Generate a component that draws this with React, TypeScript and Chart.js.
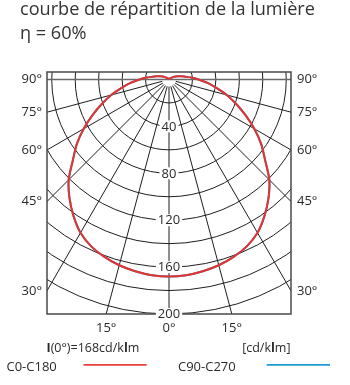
import React, { useEffect, useRef } from "react";
import { Chart, registerables } from "chart.js";

Chart.register(...registerables);

// ---- data ----
const gammaDeg = [0, 5, 10, 15, 20, 25, 30, 35, 40, 45, 50, 55, 60, 65, 70, 75, 80, 85, 90, 95, 100, 105, 110, 115, 120, 130, 140, 150, 165, 180];
const intensityC0C180 = [168, 167.5, 166, 164, 161, 157, 151, 142, 132, 121, 107, 96, 84, 72, 61, 51, 41, 33, 25, 19, 14, 11, 8, 6, 4, 2, 1, 0.5, 0.2, 0];
const intensityC90C270 = [168, 167.5, 166, 164, 161, 157, 151, 142, 132, 121, 107, 96, 84, 72, 61, 51, 41, 33, 25, 19, 14, 11, 8, 6, 4, 2, 1, 0.5, 0.2, 0];
const seriesNames = ["C0-C180", "C90-C270"];
const circleValues = [20, 40, 60, 80, 100, 120, 140, 160, 180, 200];
const circleLabels = [40, 80, 120, 160, 200];
const radialAngles = [0, 15, 30, 45, 60, 75];
const sideAngles = [90, 75, 60, 45, 30];
const bottomAngles = [-15, 0, 15];
const maxIntensity = 200;
const titleLine1 = "courbe de répartition de la lumière";
const titleLine2 = "η = 60%";
const i0Text = ["I", "(0°)=168cd/k", "l", "m"];
const unitText = ["[cd/k", "l", "m]"];

const FONT = "'Open Sans', 'Noto Sans', sans-serif";

function toPoints(vals: number[]) {
  const pts: { x: number; y: number }[] = [];
  for (let i = gammaDeg.length - 1; i >= 0; i--) {
    const g = (gammaDeg[i] * Math.PI) / 180;
    pts.push({ x: -vals[i] * Math.sin(g), y: -vals[i] * Math.cos(g) });
  }
  for (let i = 1; i < gammaDeg.length; i++) {
    const g = (gammaDeg[i] * Math.PI) / 180;
    pts.push({ x: vals[i] * Math.sin(g), y: -vals[i] * Math.cos(g) });
  }
  return pts;
}

function drawRich(ctx: CanvasRenderingContext2D, parts: string[], boldIdx: number[], x: number, y: number, size: number, align: "left" | "right") {
  const fonts = parts.map((_, i) => (boldIdx.includes(i) ? `bold ${size}px ${FONT}` : `${size}px ${FONT}`));
  let total = 0;
  const widths = parts.map((p, i) => {
    ctx.font = fonts[i];
    const w = ctx.measureText(p).width;
    total += w;
    return w;
  });
  let cx = align === "left" ? x : x - total;
  ctx.textAlign = "left";
  parts.forEach((p, i) => {
    ctx.font = fonts[i];
    ctx.fillText(p, cx, y);
    cx += widths[i];
  });
}

const polarPlugin = {
  id: "polarGrid",
  beforeDatasetsDraw(chart: any) {
    const { ctx, chartArea: a, scales } = chart;
    const xs = scales.x;
    const ys = scales.y;
    const cx = xs.getPixelForValue(0);
    const cy = ys.getPixelForValue(0);
    const kx = xs.getPixelForValue(1) - cx;
    const ky = cy - ys.getPixelForValue(1);
    ctx.save();
    ctx.beginPath();
    ctx.rect(a.left, a.top, a.right - a.left, a.bottom - a.top);
    ctx.clip();
    ctx.strokeStyle = "#1e1e1e";
    ctx.lineWidth = 1;
    circleValues.forEach((r) => {
      ctx.beginPath();
      ctx.ellipse(cx, cy, r * kx, r * ky, 0, 0, Math.PI * 2);
      ctx.stroke();
    });
    const r0 = 6;
    const r1 = 400;
    radialAngles.forEach((ang) => {
      const g = (ang * Math.PI) / 180;
      [-1, 1].forEach((s) => {
        if (ang === 0 && s === -1) return;
        ctx.beginPath();
        ctx.moveTo(xs.getPixelForValue(s * r0 * Math.sin(g)), ys.getPixelForValue(-r0 * Math.cos(g)));
        ctx.lineTo(xs.getPixelForValue(s * r1 * Math.sin(g)), ys.getPixelForValue(-r1 * Math.cos(g)));
        ctx.stroke();
      });
    });
    ctx.strokeStyle = "#6a6a6a";
    ctx.lineWidth = 1.5;
    ctx.beginPath();
    ctx.moveTo(a.left, cy);
    ctx.lineTo(a.right, cy);
    ctx.stroke();
    ctx.restore();
  },
  afterDatasetsDraw(chart: any) {
    const { ctx, chartArea: a, scales } = chart;
    const xs = scales.x;
    const ys = scales.y;
    const cx = xs.getPixelForValue(0);
    ctx.save();
    // frame
    ctx.strokeStyle = "#4a4a4a";
    ctx.lineWidth = 1.5;
    ctx.strokeRect(a.left, a.top, a.right - a.left, a.bottom - a.top);

    ctx.fillStyle = "#2a2a2a";
    ctx.textBaseline = "middle";
    // circle labels
    ctx.font = `13px ${FONT}`;
    ctx.textAlign = "center";
    circleLabels.forEach((v) => {
      const py = ys.getPixelForValue(-v);
      const t = String(v);
      const w = ctx.measureText(t).width;
      ctx.fillStyle = "#ffffff";
      ctx.fillRect(cx - w / 2 - 2, py - 6, w + 4, 12);
      ctx.fillStyle = "#2a2a2a";
      ctx.fillText(t, cx, py + 0.5);
    });
    // side labels
    const xEdge = xs.max;
    sideAngles.forEach((ang) => {
      const g = (ang * Math.PI) / 180;
      const yv = ang === 90 ? 0 : -xEdge / Math.tan(g);
      const py = ys.getPixelForValue(yv);
      ctx.textAlign = "right";
      ctx.fillText(`${ang}°`, a.left - 5, py);
      ctx.textAlign = "left";
      ctx.fillText(`${ang}°`, a.right + 6, py);
    });
    // bottom labels
    ctx.textAlign = "center";
    bottomAngles.forEach((ang) => {
      const g = (ang * Math.PI) / 180;
      const px = xs.getPixelForValue(maxIntensity * Math.tan(g));
      ctx.fillText(`${Math.abs(ang)}°`, px, a.bottom + 14);
    });
    // title
    ctx.textBaseline = "alphabetic";
    ctx.fillStyle = "#333333";
    ctx.textAlign = "left";
    ctx.font = `18px ${FONT}`;
    const tw = ctx.measureText(titleLine1).width;
    const ts = Math.min(19, (18 * 295) / tw);
    ctx.font = `${ts}px ${FONT}`;
    ctx.fillText(titleLine1, 20, 15);
    ctx.fillText(titleLine2, 20, 38.5);
    // I(0) and unit
    ctx.fillStyle = "#2a2a2a";
    drawRich(ctx, i0Text, [0, 2], 46.5, 351.5, 12.5, "left");
    drawRich(ctx, unitText, [1], 290.5, 351.5, 12.5, "right");
    // legend
    ctx.font = `13px ${FONT}`;
    ctx.textAlign = "left";
    ctx.fillText(seriesNames[0], 6.5, 370.5);
    ctx.fillText(seriesNames[1], 178, 370.5);
    ctx.lineWidth = 1.8;
    ctx.strokeStyle = "#e8403a";
    ctx.beginPath();
    ctx.moveTo(83.5, 364.8);
    ctx.lineTo(146.7, 364.8);
    ctx.stroke();
    ctx.strokeStyle = "#1f9ad8";
    ctx.beginPath();
    ctx.moveTo(266.7, 364.8);
    ctx.lineTo(330, 364.8);
    ctx.stroke();
    ctx.restore();
  },
};

export default function App() {
  const ref = useRef<HTMLCanvasElement | null>(null);
  useEffect(() => {
    if (!ref.current) return;
    const chart = new Chart(ref.current, {
      type: "scatter",
      data: {
        datasets: [
          {
            label: seriesNames[0],
            data: toPoints(intensityC0C180),
            borderColor: "#e5322d",
            borderWidth: 2,
            showLine: true,
            pointRadius: 0,
            tension: 0.3,
            order: 1,
          },
          {
            label: seriesNames[1],
            data: toPoints(intensityC90C270),
            borderColor: "#1f9ad8",
            borderWidth: 2,
            showLine: true,
            pointRadius: 0,
            tension: 0.3,
            order: 2,
          },
        ],
      },
      options: {
        animation: false,
        responsive: false,
        devicePixelRatio: 1,
        events: [],
        layout: { padding: { left: 47, right: 59, top: 72, bottom: 71 } },
        plugins: { legend: { display: false }, tooltip: { enabled: false } },
        scales: {
          x: { type: "linear", min: -104.05, max: 104.05, display: false },
          y: { type: "linear", min: -200, max: 6.4, display: false },
        },
      },
      plugins: [polarPlugin],
    } as any);
    return () => chart.destroy();
  }, []);
  return (
    <div style={{ position: "fixed", left: 0, top: 0, width: 350, height: 385, background: "#fff" }}>
      <canvas ref={ref} width={350} height={385} style={{ display: "block" }} />
    </div>
  );
}
